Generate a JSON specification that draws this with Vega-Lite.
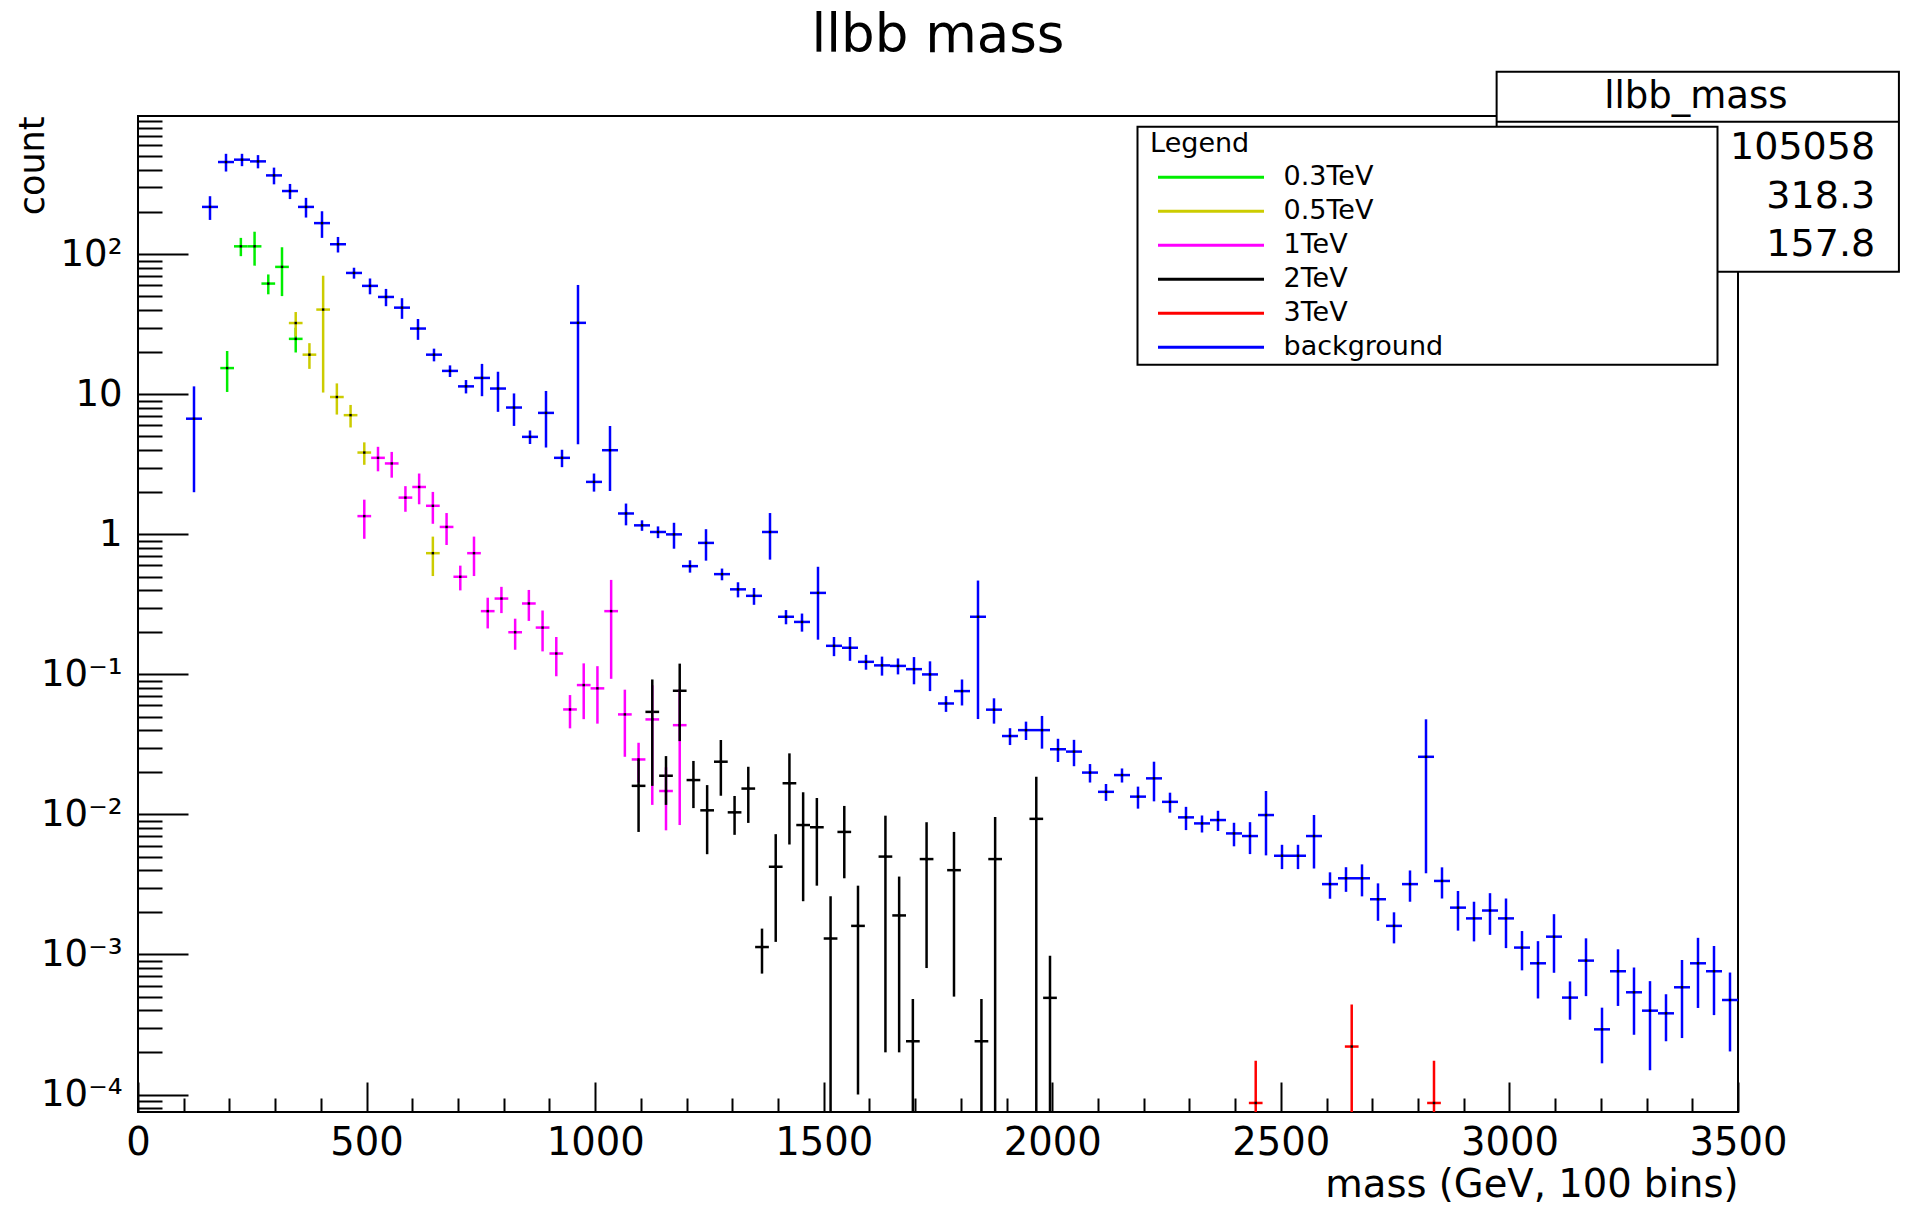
{
  "$schema": "https://vega.github.io/schema/vega-lite/v6.json",
  "width": 1600,
  "height": 996,
  "autosize": {"type": "none"},
  "padding": {"left": 138, "top": 116, "right": 171, "bottom": 95},
  "background": "white",
  "config": {
    "font": "DejaVu Sans",
    "view": {"stroke": "black", "strokeWidth": 2},
    "legend": {"strokeWidth": 2}
  },
  "title": {"text": "llbb mass", "fontSize": 53, "fontWeight": "normal", "color": "black", "font": "DejaVu Sans", "anchor": "middle", "frame": "group", "offset": 8},
  "datasets": {
    "hist": [
      {"s":"background","m0":105,"m1":140,"m":122.5,"v":6.7,"lo":2.0,"hi":11.4},
      {"s":"background","m0":140,"m1":175,"m":157.5,"v":218,"lo":176,"hi":260},
      {"s":"background","m0":175,"m1":210,"m":192.5,"v":456,"lo":390,"hi":522},
      {"s":"background","m0":210,"m1":245,"m":227.5,"v":474,"lo":426,"hi":522},
      {"s":"background","m0":245,"m1":280,"m":262.5,"v":461,"lo":411,"hi":511},
      {"s":"background","m0":280,"m1":315,"m":297.5,"v":366,"lo":316,"hi":416},
      {"s":"background","m0":315,"m1":350,"m":332.5,"v":283,"lo":248,"hi":318},
      {"s":"background","m0":350,"m1":385,"m":367.5,"v":218,"lo":183,"hi":253},
      {"s":"background","m0":385,"m1":420,"m":402.5,"v":167,"lo":131,"hi":203},
      {"s":"background","m0":420,"m1":455,"m":437.5,"v":118,"lo":103,"hi":133},
      {"s":"background","m0":455,"m1":490,"m":472.5,"v":73.6,"lo":67,"hi":80.2},
      {"s":"background","m0":490,"m1":525,"m":507.5,"v":59.5,"lo":51.8,"hi":67.2},
      {"s":"background","m0":525,"m1":560,"m":542.5,"v":49.6,"lo":42.6,"hi":56.6},
      {"s":"background","m0":560,"m1":595,"m":577.5,"v":41.6,"lo":34.6,"hi":48.6},
      {"s":"background","m0":595,"m1":630,"m":612.5,"v":29.5,"lo":24.5,"hi":34.5},
      {"s":"background","m0":630,"m1":665,"m":647.5,"v":19.2,"lo":17.2,"hi":21.2},
      {"s":"background","m0":665,"m1":700,"m":682.5,"v":14.7,"lo":13.3,"hi":16.1},
      {"s":"background","m0":700,"m1":735,"m":717.5,"v":11.4,"lo":10.15,"hi":12.65},
      {"s":"background","m0":735,"m1":770,"m":752.5,"v":13.1,"lo":9.7,"hi":16.5},
      {"s":"background","m0":770,"m1":805,"m":787.5,"v":11.0,"lo":7.5,"hi":14.5},
      {"s":"background","m0":805,"m1":840,"m":822.5,"v":8.05,"lo":5.95,"hi":10.15},
      {"s":"background","m0":840,"m1":875,"m":857.5,"v":4.97,"lo":4.42,"hi":5.52},
      {"s":"background","m0":875,"m1":910,"m":892.5,"v":7.37,"lo":4.17,"hi":10.57},
      {"s":"background","m0":910,"m1":945,"m":927.5,"v":3.52,"lo":3.02,"hi":4.02},
      {"s":"background","m0":945,"m1":980,"m":962.5,"v":32.4,"lo":4.4,"hi":60.4},
      {"s":"background","m0":980,"m1":1015,"m":997.5,"v":2.37,"lo":2.02,"hi":2.72},
      {"s":"background","m0":1015,"m1":1050,"m":1032.5,"v":3.99,"lo":2.04,"hi":5.94},
      {"s":"background","m0":1050,"m1":1085,"m":1067.5,"v":1.41,"lo":1.16,"hi":1.66},
      {"s":"background","m0":1085,"m1":1120,"m":1102.5,"v":1.16,"lo":1.06,"hi":1.26},
      {"s":"background","m0":1120,"m1":1155,"m":1137.5,"v":1.04,"lo":0.94,"hi":1.14},
      {"s":"background","m0":1155,"m1":1190,"m":1172.5,"v":1.0,"lo":0.79,"hi":1.21},
      {"s":"background","m0":1190,"m1":1225,"m":1207.5,"v":0.593,"lo":0.533,"hi":0.653},
      {"s":"background","m0":1225,"m1":1260,"m":1242.5,"v":0.869,"lo":0.649,"hi":1.089},
      {"s":"background","m0":1260,"m1":1295,"m":1277.5,"v":0.52,"lo":0.47,"hi":0.57},
      {"s":"background","m0":1295,"m1":1330,"m":1312.5,"v":0.405,"lo":0.355,"hi":0.455},
      {"s":"background","m0":1330,"m1":1365,"m":1347.5,"v":0.364,"lo":0.314,"hi":0.414},
      {"s":"background","m0":1365,"m1":1400,"m":1382.5,"v":1.04,"lo":0.66,"hi":1.42},
      {"s":"background","m0":1400,"m1":1435,"m":1417.5,"v":0.258,"lo":0.228,"hi":0.288},
      {"s":"background","m0":1435,"m1":1470,"m":1452.5,"v":0.237,"lo":0.202,"hi":0.272},
      {"s":"background","m0":1470,"m1":1505,"m":1487.5,"v":0.382,"lo":0.177,"hi":0.587},
      {"s":"background","m0":1505,"m1":1540,"m":1522.5,"v":0.16,"lo":0.135,"hi":0.185},
      {"s":"background","m0":1540,"m1":1575,"m":1557.5,"v":0.155,"lo":0.125,"hi":0.185},
      {"s":"background","m0":1575,"m1":1610,"m":1592.5,"v":0.123,"lo":0.108,"hi":0.138},
      {"s":"background","m0":1610,"m1":1645,"m":1627.5,"v":0.116,"lo":0.098,"hi":0.134},
      {"s":"background","m0":1645,"m1":1680,"m":1662.5,"v":0.115,"lo":0.1,"hi":0.13},
      {"s":"background","m0":1680,"m1":1715,"m":1697.5,"v":0.109,"lo":0.085,"hi":0.133},
      {"s":"background","m0":1715,"m1":1750,"m":1732.5,"v":0.1,"lo":0.076,"hi":0.124},
      {"s":"background","m0":1750,"m1":1785,"m":1767.5,"v":0.062,"lo":0.054,"hi":0.07},
      {"s":"background","m0":1785,"m1":1820,"m":1802.5,"v":0.076,"lo":0.06,"hi":0.092},
      {"s":"background","m0":1820,"m1":1855,"m":1837.5,"v":0.258,"lo":0.048,"hi":0.468},
      {"s":"background","m0":1855,"m1":1890,"m":1872.5,"v":0.056,"lo":0.0445,"hi":0.0675},
      {"s":"background","m0":1890,"m1":1925,"m":1907.5,"v":0.0363,"lo":0.0313,"hi":0.0413},
      {"s":"background","m0":1925,"m1":1960,"m":1942.5,"v":0.040,"lo":0.034,"hi":0.046},
      {"s":"background","m0":1960,"m1":1995,"m":1977.5,"v":0.040,"lo":0.0295,"hi":0.0505},
      {"s":"background","m0":1995,"m1":2030,"m":2012.5,"v":0.0292,"lo":0.0237,"hi":0.0347},
      {"s":"background","m0":2030,"m1":2065,"m":2047.5,"v":0.0281,"lo":0.0221,"hi":0.0341},
      {"s":"background","m0":2065,"m1":2100,"m":2082.5,"v":0.0199,"lo":0.0169,"hi":0.0229},
      {"s":"background","m0":2100,"m1":2135,"m":2117.5,"v":0.0145,"lo":0.0125,"hi":0.0165},
      {"s":"background","m0":2135,"m1":2170,"m":2152.5,"v":0.0191,"lo":0.0169,"hi":0.0213},
      {"s":"background","m0":2170,"m1":2205,"m":2187.5,"v":0.0134,"lo":0.011,"hi":0.0158},
      {"s":"background","m0":2205,"m1":2240,"m":2222.5,"v":0.0181,"lo":0.0124,"hi":0.0238},
      {"s":"background","m0":2240,"m1":2275,"m":2257.5,"v":0.0123,"lo":0.0103,"hi":0.0143},
      {"s":"background","m0":2275,"m1":2310,"m":2292.5,"v":0.00953,"lo":0.00773,"hi":0.01133},
      {"s":"background","m0":2310,"m1":2345,"m":2327.5,"v":0.00863,"lo":0.00743,"hi":0.00983},
      {"s":"background","m0":2345,"m1":2380,"m":2362.5,"v":0.00912,"lo":0.00762,"hi":0.01062},
      {"s":"background","m0":2380,"m1":2415,"m":2397.5,"v":0.00732,"lo":0.00592,"hi":0.00872},
      {"s":"background","m0":2415,"m1":2450,"m":2432.5,"v":0.00701,"lo":0.00521,"hi":0.00881},
      {"s":"background","m0":2450,"m1":2485,"m":2467.5,"v":0.0099,"lo":0.0051,"hi":0.0147},
      {"s":"background","m0":2485,"m1":2520,"m":2502.5,"v":0.00507,"lo":0.00407,"hi":0.00607},
      {"s":"background","m0":2520,"m1":2555,"m":2537.5,"v":0.00507,"lo":0.00407,"hi":0.00607},
      {"s":"background","m0":2555,"m1":2590,"m":2572.5,"v":0.00701,"lo":0.00411,"hi":0.00991},
      {"s":"background","m0":2590,"m1":2625,"m":2607.5,"v":0.00318,"lo":0.0025,"hi":0.00386},
      {"s":"background","m0":2625,"m1":2660,"m":2642.5,"v":0.0035,"lo":0.0028,"hi":0.0042},
      {"s":"background","m0":2660,"m1":2695,"m":2677.5,"v":0.0035,"lo":0.0026,"hi":0.0044},
      {"s":"background","m0":2695,"m1":2730,"m":2712.5,"v":0.00248,"lo":0.00174,"hi":0.00322},
      {"s":"background","m0":2730,"m1":2765,"m":2747.5,"v":0.0016,"lo":0.0012,"hi":0.002},
      {"s":"background","m0":2765,"m1":2800,"m":2782.5,"v":0.00318,"lo":0.00238,"hi":0.00398},
      {"s":"background","m0":2800,"m1":2835,"m":2817.5,"v":0.0258,"lo":0.0038,"hi":0.0478},
      {"s":"background","m0":2835,"m1":2870,"m":2852.5,"v":0.00335,"lo":0.00251,"hi":0.00419},
      {"s":"background","m0":2870,"m1":2905,"m":2887.5,"v":0.00216,"lo":0.00148,"hi":0.00284},
      {"s":"background","m0":2905,"m1":2940,"m":2922.5,"v":0.00181,"lo":0.00124,"hi":0.00238},
      {"s":"background","m0":2940,"m1":2975,"m":2957.5,"v":0.00206,"lo":0.00138,"hi":0.00274},
      {"s":"background","m0":2975,"m1":3010,"m":2992.5,"v":0.00181,"lo":0.00111,"hi":0.00251},
      {"s":"background","m0":3010,"m1":3045,"m":3027.5,"v":0.00112,"lo":0.00077,"hi":0.00147},
      {"s":"background","m0":3045,"m1":3080,"m":3062.5,"v":0.000865,"lo":0.000485,"hi":0.001245},
      {"s":"background","m0":3080,"m1":3115,"m":3097.5,"v":0.00134,"lo":0.00074,"hi":0.00194},
      {"s":"background","m0":3115,"m1":3150,"m":3132.5,"v":0.000492,"lo":0.000342,"hi":0.000642},
      {"s":"background","m0":3150,"m1":3185,"m":3167.5,"v":0.000904,"lo":0.000504,"hi":0.001304},
      {"s":"background","m0":3185,"m1":3220,"m":3202.5,"v":0.000292,"lo":0.000167,"hi":0.000417},
      {"s":"background","m0":3220,"m1":3255,"m":3237.5,"v":0.000759,"lo":0.000429,"hi":0.001089},
      {"s":"background","m0":3255,"m1":3290,"m":3272.5,"v":0.000537,"lo":0.000267,"hi":0.000807},
      {"s":"background","m0":3290,"m1":3325,"m":3307.5,"v":0.000397,"lo":0.000149,"hi":0.000645},
      {"s":"background","m0":3325,"m1":3360,"m":3342.5,"v":0.00038,"lo":0.00024,"hi":0.00052},
      {"s":"background","m0":3360,"m1":3395,"m":3377.5,"v":0.000583,"lo":0.000253,"hi":0.000913},
      {"s":"background","m0":3395,"m1":3430,"m":3412.5,"v":0.000865,"lo":0.000415,"hi":0.001315},
      {"s":"background","m0":3430,"m1":3465,"m":3447.5,"v":0.000759,"lo":0.000369,"hi":0.001149},
      {"s":"background","m0":3465,"m1":3500,"m":3482.5,"v":0.000473,"lo":0.000203,"hi":0.000743},
      {"s":"0.3TeV","m0":180,"m1":210,"m":195,"v":15.4,"lo":10.4,"hi":20.4},
      {"s":"0.3TeV","m0":210,"m1":240,"m":225,"v":114,"lo":97,"hi":131},
      {"s":"0.3TeV","m0":240,"m1":270,"m":255,"v":114,"lo":83,"hi":145},
      {"s":"0.3TeV","m0":270,"m1":300,"m":285,"v":61.8,"lo":51.8,"hi":71.8},
      {"s":"0.3TeV","m0":300,"m1":330,"m":315,"v":81.3,"lo":50.3,"hi":112.3},
      {"s":"0.3TeV","m0":330,"m1":360,"m":345,"v":24.9,"lo":19.9,"hi":29.9},
      {"s":"0.5TeV","m0":330,"m1":360,"m":345,"v":32.3,"lo":25.9,"hi":38.7},
      {"s":"0.5TeV","m0":360,"m1":390,"m":375,"v":19.2,"lo":15.2,"hi":23.2},
      {"s":"0.5TeV","m0":390,"m1":420,"m":405,"v":40.3,"lo":10.3,"hi":70.3},
      {"s":"0.5TeV","m0":420,"m1":450,"m":435,"v":9.57,"lo":7.17,"hi":11.97},
      {"s":"0.5TeV","m0":450,"m1":480,"m":465,"v":7.1,"lo":5.8,"hi":8.4},
      {"s":"0.5TeV","m0":480,"m1":510,"m":495,"v":3.84,"lo":3.14,"hi":4.54},
      {"s":"0.5TeV","m0":630,"m1":660,"m":645,"v":0.734,"lo":0.504,"hi":0.964},
      {"s":"1TeV","m0":480,"m1":510,"m":495,"v":1.35,"lo":0.93,"hi":1.77},
      {"s":"1TeV","m0":510,"m1":540,"m":525,"v":3.52,"lo":2.82,"hi":4.22},
      {"s":"1TeV","m0":540,"m1":570,"m":555,"v":3.21,"lo":2.54,"hi":3.88},
      {"s":"1TeV","m0":570,"m1":600,"m":585,"v":1.83,"lo":1.45,"hi":2.21},
      {"s":"1TeV","m0":600,"m1":630,"m":615,"v":2.18,"lo":1.64,"hi":2.72},
      {"s":"1TeV","m0":630,"m1":660,"m":645,"v":1.60,"lo":1.19,"hi":2.01},
      {"s":"1TeV","m0":660,"m1":690,"m":675,"v":1.13,"lo":0.84,"hi":1.42},
      {"s":"1TeV","m0":690,"m1":720,"m":705,"v":0.498,"lo":0.398,"hi":0.598},
      {"s":"1TeV","m0":720,"m1":750,"m":735,"v":0.734,"lo":0.504,"hi":0.964},
      {"s":"1TeV","m0":750,"m1":780,"m":765,"v":0.283,"lo":0.213,"hi":0.353},
      {"s":"1TeV","m0":780,"m1":810,"m":795,"v":0.348,"lo":0.274,"hi":0.422},
      {"s":"1TeV","m0":810,"m1":840,"m":825,"v":0.2,"lo":0.15,"hi":0.25},
      {"s":"1TeV","m0":840,"m1":870,"m":855,"v":0.321,"lo":0.241,"hi":0.401},
      {"s":"1TeV","m0":870,"m1":900,"m":885,"v":0.216,"lo":0.146,"hi":0.286},
      {"s":"1TeV","m0":900,"m1":930,"m":915,"v":0.141,"lo":0.097,"hi":0.185},
      {"s":"1TeV","m0":930,"m1":960,"m":945,"v":0.0562,"lo":0.0412,"hi":0.0712},
      {"s":"1TeV","m0":960,"m1":990,"m":975,"v":0.0839,"lo":0.0479,"hi":0.1199},
      {"s":"1TeV","m0":990,"m1":1020,"m":1005,"v":0.0795,"lo":0.0445,"hi":0.1145},
      {"s":"1TeV","m0":1020,"m1":1050,"m":1035,"v":0.283,"lo":0.093,"hi":0.473},
      {"s":"1TeV","m0":1050,"m1":1080,"m":1065,"v":0.0518,"lo":0.0258,"hi":0.0778},
      {"s":"1TeV","m0":1080,"m1":1110,"m":1095,"v":0.0247,"lo":0.0169,"hi":0.0325},
      {"s":"1TeV","m0":1110,"m1":1140,"m":1125,"v":0.0477,"lo":0.0117,"hi":0.0837},
      {"s":"1TeV","m0":1140,"m1":1170,"m":1155,"v":0.0147,"lo":0.0077,"hi":0.0217},
      {"s":"1TeV","m0":1170,"m1":1200,"m":1185,"v":0.0434,"lo":0.0084,"hi":0.0784},
      {"s":"2TeV","m0":1080,"m1":1110,"m":1095,"v":0.016,"lo":0.0075,"hi":0.0245},
      {"s":"2TeV","m0":1110,"m1":1140,"m":1125,"v":0.054,"lo":0.016,"hi":0.092},
      {"s":"2TeV","m0":1140,"m1":1170,"m":1155,"v":0.0189,"lo":0.0117,"hi":0.0261},
      {"s":"2TeV","m0":1170,"m1":1200,"m":1185,"v":0.0764,"lo":0.0334,"hi":0.1194},
      {"s":"2TeV","m0":1200,"m1":1230,"m":1215,"v":0.0176,"lo":0.0111,"hi":0.0241},
      {"s":"2TeV","m0":1230,"m1":1260,"m":1245,"v":0.0107,"lo":0.0052,"hi":0.0162},
      {"s":"2TeV","m0":1260,"m1":1290,"m":1275,"v":0.0238,"lo":0.0136,"hi":0.034},
      {"s":"2TeV","m0":1290,"m1":1320,"m":1305,"v":0.01035,"lo":0.00715,"hi":0.01355},
      {"s":"2TeV","m0":1320,"m1":1350,"m":1335,"v":0.0153,"lo":0.0087,"hi":0.0219},
      {"s":"2TeV","m0":1350,"m1":1380,"m":1365,"v":0.00113,"lo":0.00073,"hi":0.00153},
      {"s":"2TeV","m0":1380,"m1":1410,"m":1395,"v":0.00423,"lo":0.00123,"hi":0.00723},
      {"s":"2TeV","m0":1410,"m1":1440,"m":1425,"v":0.0167,"lo":0.0061,"hi":0.0273},
      {"s":"2TeV","m0":1440,"m1":1470,"m":1455,"v":0.0084,"lo":0.0024,"hi":0.0144},
      {"s":"2TeV","m0":1470,"m1":1500,"m":1485,"v":0.0081,"lo":0.0031,"hi":0.0131},
      {"s":"2TeV","m0":1500,"m1":1530,"m":1515,"v":0.0013,"lo":0.0000001,"hi":0.0026},
      {"s":"2TeV","m0":1530,"m1":1560,"m":1545,"v":0.0075,"lo":0.0035,"hi":0.0115},
      {"s":"2TeV","m0":1560,"m1":1590,"m":1575,"v":0.0016,"lo":0.0001,"hi":0.0031},
      {"s":"2TeV","m0":1620,"m1":1650,"m":1635,"v":0.005,"lo":0.0002,"hi":0.0098},
      {"s":"2TeV","m0":1650,"m1":1680,"m":1665,"v":0.0019,"lo":0.0002,"hi":0.0036},
      {"s":"2TeV","m0":1680,"m1":1710,"m":1695,"v":0.00024,"lo":0.0000001,"hi":0.00048},
      {"s":"2TeV","m0":1710,"m1":1740,"m":1725,"v":0.0048,"lo":0.0008,"hi":0.0088},
      {"s":"2TeV","m0":1770,"m1":1800,"m":1785,"v":0.004,"lo":0.0005,"hi":0.0075},
      {"s":"2TeV","m0":1830,"m1":1860,"m":1845,"v":0.00024,"lo":0.0000001,"hi":0.00048},
      {"s":"2TeV","m0":1860,"m1":1890,"m":1875,"v":0.0048,"lo":0.0000001,"hi":0.0096},
      {"s":"2TeV","m0":1950,"m1":1980,"m":1965,"v":0.0093,"lo":0.0000001,"hi":0.0186},
      {"s":"2TeV","m0":1980,"m1":2010,"m":1995,"v":0.00049,"lo":0.0000001,"hi":0.00098},
      {"s":"3TeV","m0":2430,"m1":2460,"m":2445,"v":0.000087,"lo":0.0000001,"hi":0.000174},
      {"s":"3TeV","m0":2640,"m1":2670,"m":2655,"v":0.00022,"lo":0.0000001,"hi":0.00044},
      {"s":"3TeV","m0":2820,"m1":2850,"m":2835,"v":0.000087,"lo":0.0000001,"hi":0.000174}
    ]
  },
  "layer": [
    {
      "data": {"name": "hist"},
      "mark": {"type": "rule", "strokeWidth": 2.5, "clip": true},
      "encoding": {
        "x": {
          "field": "m0", "type": "quantitative", "title": "mass (GeV, 100 bins)",
          "scale": {"domain": [0, 3500], "nice": false, "zero": false},
          "axis": {
            "values": [0,100,200,300,400,500,600,700,800,900,1000,1100,1200,1300,1400,1500,1600,1700,1800,1900,2000,2100,2200,2300,2400,2500,2600,2700,2800,2900,3000,3100,3200,3300,3400,3500],
            "format": "d",
            "labelExpr": "datum.value % 500 === 0 ? datum.label : ''",
            "tickSize": {"condition": {"test": "datum.value % 500 === 0", "value": -30}, "value": -14},
            "tickColor": "black", "tickWidth": 2,
            "domain": false, "grid": false,
            "labelFontSize": 38.5, "labelColor": "black", "labelPadding": 42, "labelBaseline": "top",
            "labelFlush": false, "labelOverlap": false, "labelBound": false,
            "titleFontSize": 38.5, "titleFontWeight": "normal", "titleColor": "black",
            "titleAnchor": "end", "titleAlign": "right", "titleX": 1600, "titleY": 84, "titleBaseline": "alphabetic"
          }
        },
        "x2": {"field": "m1"},
        "y": {
          "field": "v", "type": "quantitative", "title": "count",
          "scale": {"type": "log", "domain": [0.000075, 972], "nice": false},
          "axis": {
            "values": [0.00008,0.00009,0.0001,0.0002,0.0003,0.0004,0.0005,0.0006,0.0007,0.0008,0.0009,0.001,0.002,0.003,0.004,0.005,0.006,0.007,0.008,0.009,0.01,0.02,0.03,0.04,0.05,0.06,0.07,0.08,0.09,0.1,0.2,0.3,0.4,0.5,0.6,0.7,0.8,0.9,1,2,3,4,5,6,7,8,9,10,20,30,40,50,60,70,80,90,100,200,300,400,500,600,700,800,900],
            "labelExpr": "datum.value === 100 ? '10²' : datum.value === 10 ? '10' : datum.value === 1 ? '1' : datum.value === 0.1 ? '10⁻¹' : datum.value === 0.01 ? '10⁻²' : datum.value === 0.001 ? '10⁻³' : datum.value === 0.0001 ? '10⁻⁴' : ''",
            "tickSize": {"condition": {"test": "indexof([0.0001,0.001,0.01,0.1,1,10,100], datum.value) >= 0", "value": -50}, "value": -24},
            "tickColor": "black", "tickWidth": 2,
            "domain": false, "grid": false,
            "labelFontSize": 37, "labelColor": "black", "labelPadding": 66, "labelBaseline": "middle", "labelAlign": "right",
            "labelFlush": false, "labelOverlap": false, "labelBound": false,
            "titleFontSize": 35, "titleFontWeight": "normal", "titleColor": "black",
            "titleAngle": 270, "titleAlign": "right", "titleBaseline": "alphabetic", "titleX": -95, "titleY": 0
          }
        },
        "color": {
          "field": "s", "type": "nominal",
          "scale": {"domain": ["0.3TeV","0.5TeV","1TeV","2TeV","3TeV","background"], "range": ["#00ee00","#cccc00","#ff00ff","#000000","#ff0000","#0000ff"]},
          "legend": {
            "orient": "none", "legendX": 999.5, "legendY": 10.7,
            "title": "\u200b\u00a0Legend\u00a0\u00a0\u00a0\u00a0\u00a0\u00a0\u00a0\u00a0\u00a0\u00a0\u00a0\u00a0\u00a0\u00a0\u00a0\u00a0\u00a0\u00a0\u00a0\u00a0\u00a0\u00a0\u00a0\u00a0\u00a0\u00a0\u00a0\u00a0\u00a0\u00a0\u00a0\u00a0\u00a0\u00a0\u00a0\u00a0\u00a0\u00a0\u00a0\u00a0\u00a0\u00a0\u00a0\u00a0\u00a0\u00a0\u00a0\u00a0\u00a0\u00a0\u00a0\u00a0\u00a0\u00a0\u200b",
            "titleFontSize": 27, "titleFontWeight": "normal", "titleColor": "black", "titleLimit": 2000, "titlePadding": 6,
            "labelFontSize": 27, "labelColor": "black", "labelLimit": 2000, "labelOffset": 18,
            "symbolType": "stroke", "symbolSize": 11236, "symbolStrokeWidth": 3, "symbolOffset": 15,
            "clipHeight": 27,
            "rowPadding": 6, "padding": 4, "strokeColor": "black", "fillColor": "white"
          }
        }
      }
    },
    {
      "data": {"name": "hist"},
      "mark": {"type": "rule", "strokeWidth": 2.5, "clip": true},
      "encoding": {
        "x": {"field": "m", "type": "quantitative", "title": "mass (GeV, 100 bins)"},
        "y": {"field": "lo", "type": "quantitative", "title": "count"},
        "y2": {"field": "hi"},
        "color": {"field": "s", "type": "nominal"}
      }
    },
    {
      "data": {"name": "hist"},
      "mark": {"type": "square", "size": 6, "color": "black", "filled": true, "opacity": 1, "clip": true},
      "encoding": {
        "x": {"field": "m", "type": "quantitative", "title": "mass (GeV, 100 bins)"},
        "y": {"field": "v", "type": "quantitative", "title": "count"}
      }
    },
    {
      "data": {"values": [{"t": "llbb_mass"}]},
      "mark": {"type": "rect", "fill": "white", "stroke": "black", "strokeWidth": 2},
      "encoding": {
        "x": {"datum": 2972}, "x2": {"datum": 3852},
        "y": {"datum": 2015}, "y2": {"datum": 75.2}
      }
    },
    {
      "data": {"values": [{"t": "llbb_mass"}]},
      "mark": {"type": "rule", "color": "black", "strokeWidth": 2},
      "encoding": {
        "x": {"datum": 2972}, "x2": {"datum": 3852},
        "y": {"datum": 885}
      }
    },
    {
      "data": {"values": [{"t": "llbb_mass"}]},
      "mark": {"type": "text", "fontSize": 37, "align": "center", "baseline": "middle", "color": "black"},
      "encoding": {"x": {"datum": 3408}, "y": {"datum": 1337}, "text": {"field": "t"}}
    },
    {
      "data": {"values": [{"t": "105058"}]},
      "mark": {"type": "text", "fontSize": 38, "align": "right", "baseline": "middle", "color": "black"},
      "encoding": {"x": {"datum": 3800}, "y": {"datum": 572}, "text": {"field": "t"}}
    },
    {
      "data": {"values": [{"t": "318.3"}]},
      "mark": {"type": "text", "fontSize": 38, "align": "right", "baseline": "middle", "color": "black"},
      "encoding": {"x": {"datum": 3800}, "y": {"datum": 258}, "text": {"field": "t"}}
    },
    {
      "data": {"values": [{"t": "157.8"}]},
      "mark": {"type": "text", "fontSize": 38, "align": "right", "baseline": "middle", "color": "black"},
      "encoding": {"x": {"datum": 3800}, "y": {"datum": 116.7}, "text": {"field": "t"}}
    }
  ]
}
